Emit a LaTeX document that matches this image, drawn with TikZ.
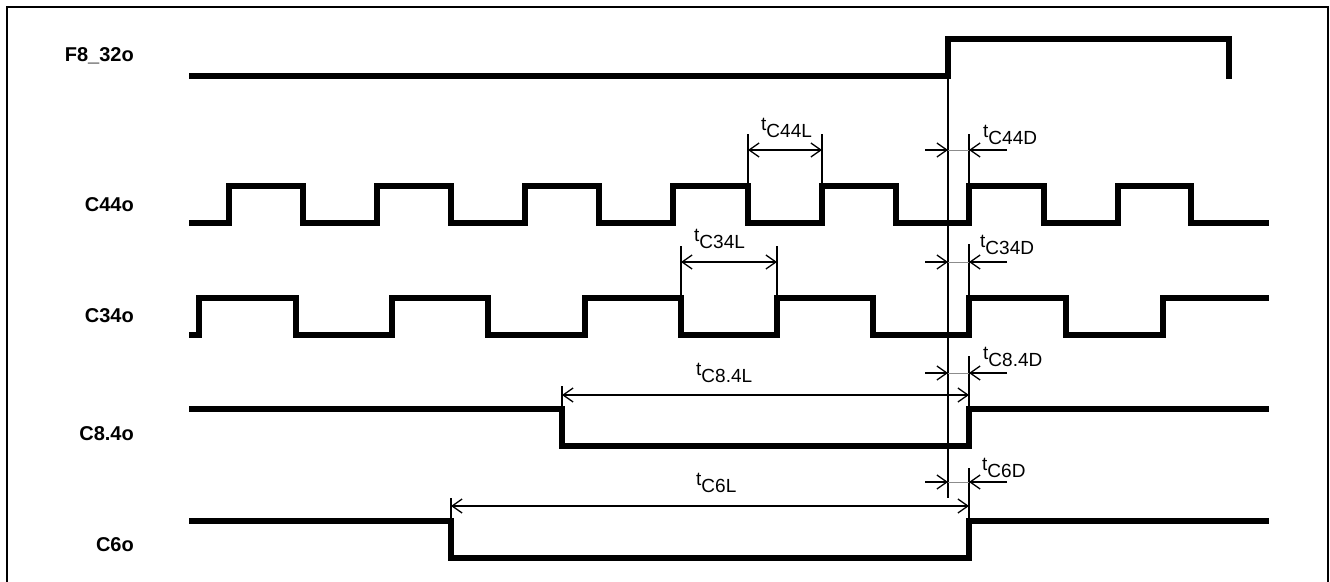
\documentclass[tikz,border=0pt]{standalone}
\usepackage{fontspec}
\setmainfont{Liberation Sans}
\usetikzlibrary{arrows.meta}
\newcommand{\tlab}[1]{t\lower7.5pt\hbox{#1}}
\begin{document}
\begin{tikzpicture}[x=1pt,y=-1pt,
  sig/.style={line width=6pt, line join=miter, line cap=butt},
  frame/.style={line width=2.2pt},
  refl/.style={line width=1.3pt},
  tick/.style={line width=1.6pt},
  barb/.tip={Straight Barb[length=10pt,width=14pt,line width=1.3pt]},
  dimlr/.style={line width=1.6pt, barb-barb},
  dimto/.style={line width=1.6pt, -barb},
  gap/.style={line width=1pt, black!45},
  siglab/.style={anchor=east, inner sep=0pt, font=\fontsize{20}{24}\selectfont\bfseries},
  tl/.style={anchor=base west, inner sep=0pt, font=\fontsize{19}{22}\selectfont}]
\useasboundingbox (0,0) rectangle (1330,581);
\draw[frame] (7,600) -- (7,7) -- (1328,7) -- (1328,600);

% signal labels
\node[siglab] (lF8)  at (134,56)  {F8\_32o};
\node[siglab] (lC44) at (134,205) {C44o};
\node[siglab] (lC34) at (134,316) {C34o};
\node[siglab] (lC84) at (134,434) {C8.4o};
\node[siglab] (lC6)  at (134,545) {C6o};

% reference line
\coordinate (r0) at (948,76);
\coordinate (r1) at (948,498);
\draw[refl] (r0) -- (r1);

% signals
\draw[sig] (189,76) -- (948,76) -- (948,39) -- (1229,39) -- (1229,79);
\draw[sig] (189,223) -| (229,186) -| (303,223) -| (377,186) -| (451,223) -| (525,186)
  -| (599,223) -| (673,186) -| (748,223) -| (822,186) -| (896,223) -| (969,186)
  -| (1044,223) -| (1118,186) -| (1191,223) -- (1269,223);
\draw[sig] (189,335) -| (199,298) -| (296,335) -| (392,298) -| (488,335) -| (585,298)
  -| (681,335) -| (777,298) -| (873,335) -| (969,298) -| (1066,335) -| (1163,298) -- (1269,298);
\draw[sig] (189,409) -| (562,446) -| (969,409) -- (1269,409);
\draw[sig] (189,521) -| (451,558) -| (969,521) -- (1269,521);

% tC44L
\coordinate (a1) at (748,134); \coordinate (a1b) at (748,186);
\coordinate (a2) at (822,134); \coordinate (a2b) at (822,186);
\draw[tick] (a1) -- (a1b); \draw[tick] (a2) -- (a2b);
\draw[dimlr] (748,150) -- (822,150);
\node[tl] (t44L) at (761,130) {\tlab{C44L}};

% tC34L
\coordinate (b1) at (681,246); \coordinate (b1b) at (681,298);
\coordinate (b2) at (777,246); \coordinate (b2b) at (777,298);
\draw[tick] (b1) -- (b1b); \draw[tick] (b2) -- (b2b);
\draw[dimlr] (681,262) -- (777,262);
\node[tl] (t34L) at (694,241) {\tlab{C34L}};

% tC8.4L
\coordinate (c1) at (562,386); \coordinate (c1b) at (562,409);
\draw[tick] (c1) -- (c1b);
\draw[dimlr] (562,395) -- (969,395);
\node[tl] (t84L) at (696,375) {\tlab{C8.4L}};

% tC6L
\coordinate (d1) at (451,498); \coordinate (d1b) at (451,521);
\draw[tick] (d1) -- (d1b);
\draw[dimlr] (451,506) -- (969,506);
\node[tl] (t6L) at (696,485) {\tlab{C6L}};

% delay ticks at 969
\draw[tick] (969,134) -- (969,186);
\draw[tick] (969,244) -- (969,298);
\draw[tick] (969,356) -- (969,409);
\draw[tick] (969,468) -- (969,521);

% delay arrows
\foreach \yy in {150,262,373,482}{
  \draw[dimto] (925,\yy) -- (948,\yy);
  \draw[gap] (948,\yy) -- (969,\yy);
  \draw[dimto] (1007,\yy) -- (969,\yy);
}
\node[tl] (t44D) at (983,137) {\tlab{C44D}};
\node[tl] (t34D) at (980,247) {\tlab{C34D}};
\node[tl] (t84D) at (983,359) {\tlab{C8.4D}};
\node[tl] (t6D)  at (982,470) {\tlab{C6D}};
\end{tikzpicture}
\end{document}
